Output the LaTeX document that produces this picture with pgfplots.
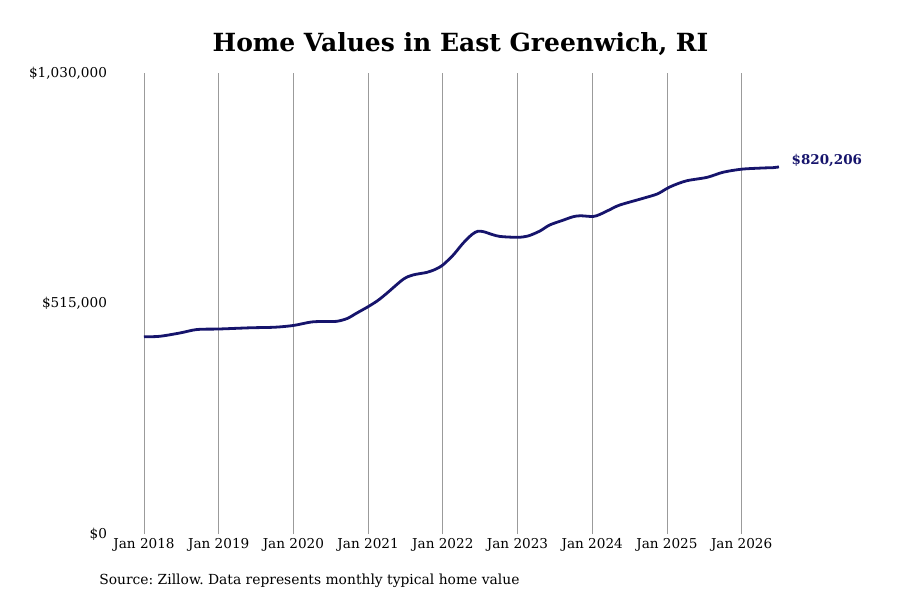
\documentclass[border=0pt]{standalone}
\usepackage{pgfplots}
\pgfplotsset{compat=1.18}
\usepackage{fontspec}
\setmainfont{DejaVu Serif}
\definecolor{navyline}{RGB}{22,20,108}
\definecolor{gridgray}{RGB}{155,155,155}

% monthly typical home value, East Greenwich RI
\pgfplotstableread{
t       v
2018.00 440600
2018.21 441700
2018.48 449100
2018.71 456900
2019.00 458000
2019.42 460700
2019.75 462000
2020.00 465900
2020.24 473700
2020.42 474800
2020.58 475200
2020.72 481500
2020.85 493800
2021.00 507900
2021.13 521700
2021.25 537800
2021.47 569100
2021.60 578700
2021.79 584700
2021.91 592100
2022.00 601000
2022.14 623400
2022.27 649500
2022.39 669200
2022.47 676500
2022.55 675200
2022.66 669200
2022.77 664700
2023.00 662900
2023.14 665800
2023.30 677000
2023.43 690400
2023.60 700500
2023.74 708700
2023.84 711000
2024.01 709400
2024.10 713900
2024.24 725000
2024.37 735100
2024.68 750000
2024.87 759700
2025.00 772000
2025.10 779800
2025.27 789400
2025.54 797000
2025.75 808200
2026.00 815100
2026.29 817800
2026.42 818500
2026.50 820206
}\homevalues

\begin{document}
\frenchspacing
\begin{tikzpicture}
\useasboundingbox (0,0) rectangle (675pt,450pt);
\node[font=\fontsize{18.75}{22}\selectfont\bfseries] at (345.4pt,417pt) {Home Values in East Greenwich, RI};
\node[font=\fontsize{10.4}{12}\selectfont, anchor=west, inner sep=0pt] at (74.25pt,14.25pt) {Source: Zillow. Data represents monthly typical home value};
\begin{axis}[
  at={(108pt,49.5pt)}, anchor=south west,
  scale only axis,
  width=476.25pt, height=345.75pt,
  xmin=2018, xmax=2026.5,
  ymin=0, ymax=1030000,
  scaled y ticks=false,
  axis line style={draw=none},
  tick style={draw=none},
  xtick={2018,2019,2020,2021,2022,2023,2024,2025,2026},
  xticklabels={Jan 2018,Jan 2019,Jan 2020,Jan 2021,Jan 2022,Jan 2023,Jan 2024,Jan 2025,Jan 2026},
  ytick={0,515000,1030000},
  yticklabels={{\$0},{\$515,000},{\$1,030,000}},
  ticklabel style={font=\fontsize{10.2}{12}\selectfont},
  yticklabel style={anchor=east, xshift=-24.25pt},
  xmajorgrids,
  grid style={gridgray, line width=0.6pt},
  clip=false,
]
\addplot[navyline, line width=2.1pt, smooth, tension=0.5] table[x=t, y=v] {\homevalues};
\node[navyline, anchor=west, font=\fontsize{10.1}{12}\selectfont\bfseries, xshift=6pt, yshift=4.5pt] at (axis cs:2026.5,820206) {\$820,206};
\end{axis}
\end{tikzpicture}
\end{document}
